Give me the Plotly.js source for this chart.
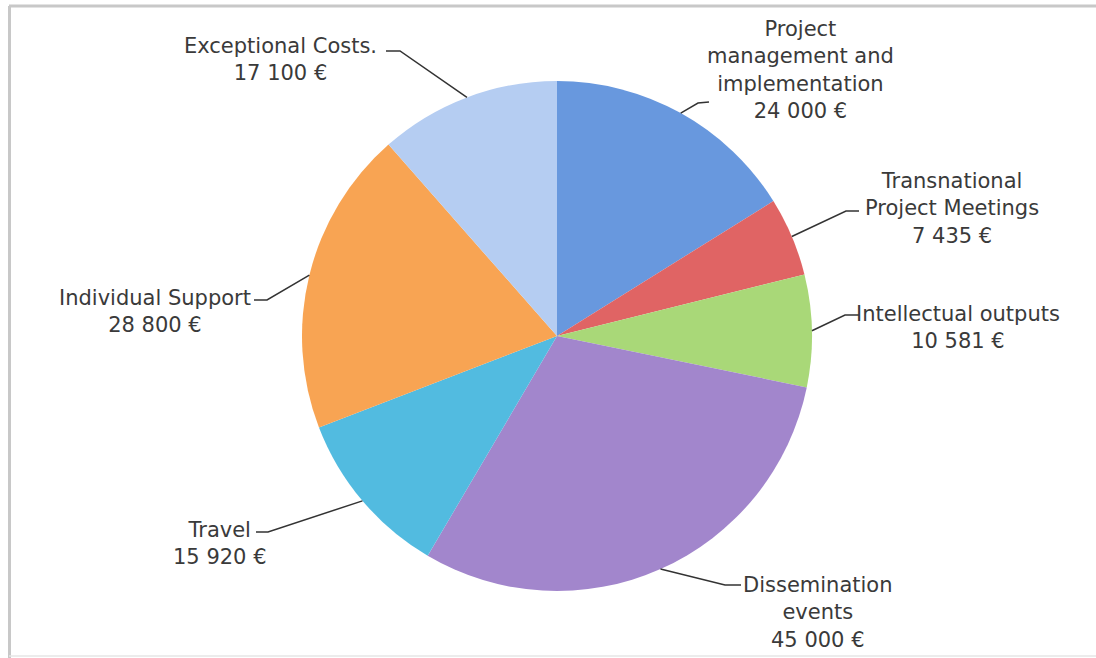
<!DOCTYPE html>
<html>
<head>
<meta charset="utf-8">
<script src="https://cdn.plot.ly/plotly-3.0.1.min.js"></script>
<style>
  html, body { margin: 0; padding: 0; background: #ffffff; }
  #chart { width: 1096px; height: 658px; }
</style>
</head>
<body>
<div id="chart"></div>
<script>
// ---------- DATA ----------
const categories = [
  "Project management and implementation",
  "Transnational Project Meetings",
  "Intellectual outputs",
  "Dissemination events",
  "Travel",
  "Individual Support",
  "Exceptional Costs."
];
const labelLines = [
  "Project<br>management and<br>implementation",
  "Transnational<br>Project Meetings",
  "Intellectual outputs",
  "Dissemination<br>events",
  "Travel",
  "Individual Support",
  "Exceptional Costs."
];
const values = [24000, 7435, 10581, 45000, 15920, 28800, 17100];
const currency = "€";

// ---------- STYLE / LAYOUT ----------
const W = 1096, H = 658;
const pieCenter = [557, 336];   // px
const pieRadius = 255;          // px
const colors = ["#6898de", "#e06464", "#a9d878", "#a286cc", "#52bbe0", "#f8a453", "#b5cdf2"];
// label block centres (px) and leader end / elbow points (px)
const labelCenters = [[800, 70], [952, 208], [958, 327], [818, 612], [220, 543], [155, 311], [280, 60]];
const leaderEnds   = [[709, 102], [859, 211], [859, 315], [741, 585], [256, 532], [254, 300], [386, 51]];
const leaderElbows = [[698, 103], [846, 211], [845, 315], [725, 585], [268, 532], [267, 300], [400, 51]];

function fmt(v) {
  return String(v).replace(/\B(?=(\d{3})+(?!\d))/g, " ") + " " + currency;
}
const px = x => x / W;
const py = y => 1 - y / H;

const total = values.reduce((a, b) => a + b, 0);
let cum = 0;
const edgePts = values.map(v => {
  const mid = (cum + v / 2) / total * 2 * Math.PI;
  cum += v;
  return [pieCenter[0] + pieRadius * Math.sin(mid), pieCenter[1] - pieRadius * Math.cos(mid)];
});

const trace = {
  type: "pie",
  labels: categories,
  values: values,
  sort: false,
  direction: "clockwise",
  rotation: 0,
  textinfo: "none",
  hoverinfo: "label+value",
  marker: { colors: colors, line: { width: 0 } },
  showlegend: false,
  domain: {
    x: [px(pieCenter[0] - pieRadius), px(pieCenter[0] + pieRadius)],
    y: [py(pieCenter[1] + pieRadius), py(pieCenter[1] - pieRadius)]
  }
};

const annotations = categories.map((c, i) => ({
  xref: "paper", yref: "paper",
  x: px(labelCenters[i][0]), y: py(labelCenters[i][1]),
  xanchor: "center", yanchor: "middle",
  text: labelLines[i] + "<br>" + fmt(values[i]),
  showarrow: false,
  align: "center",
  font: { family: "DejaVu Sans, sans-serif", size: 21, color: "#3a3a3a" }
}));

const shapes = categories.map((c, i) => ({
  type: "path", xref: "paper", yref: "paper",
  path: "M " + px(edgePts[i][0]) + " " + py(edgePts[i][1]) +
        " L " + px(leaderElbows[i][0]) + " " + py(leaderElbows[i][1]) +
        " L " + px(leaderEnds[i][0]) + " " + py(leaderEnds[i][1]),
  line: { color: "#333333", width: 1.5 }
}));
// frame
shapes.push({ type: "line", xref: "paper", yref: "paper", x0: px(9), x1: 1, y0: py(6), y1: py(6), line: { color: "#c8c8c8", width: 3 } });
shapes.push({ type: "line", xref: "paper", yref: "paper", x0: px(9.5), x1: px(9.5), y0: py(6), y1: 0, line: { color: "#c8c8c8", width: 3 } });
shapes.push({ type: "line", xref: "paper", yref: "paper", x0: px(9), x1: 1, y0: py(656), y1: py(656), line: { color: "#e6e6e6", width: 1.5 } });

const layout = {
  width: W, height: H,
  margin: { l: 0, r: 0, t: 0, b: 0 },
  paper_bgcolor: "#ffffff",
  plot_bgcolor: "#ffffff",
  showlegend: false,
  annotations: annotations,
  shapes: shapes
};

Plotly.newPlot("chart", [trace], layout, { displayModeBar: false, staticPlot: true });
</script>
</body>
</html>
